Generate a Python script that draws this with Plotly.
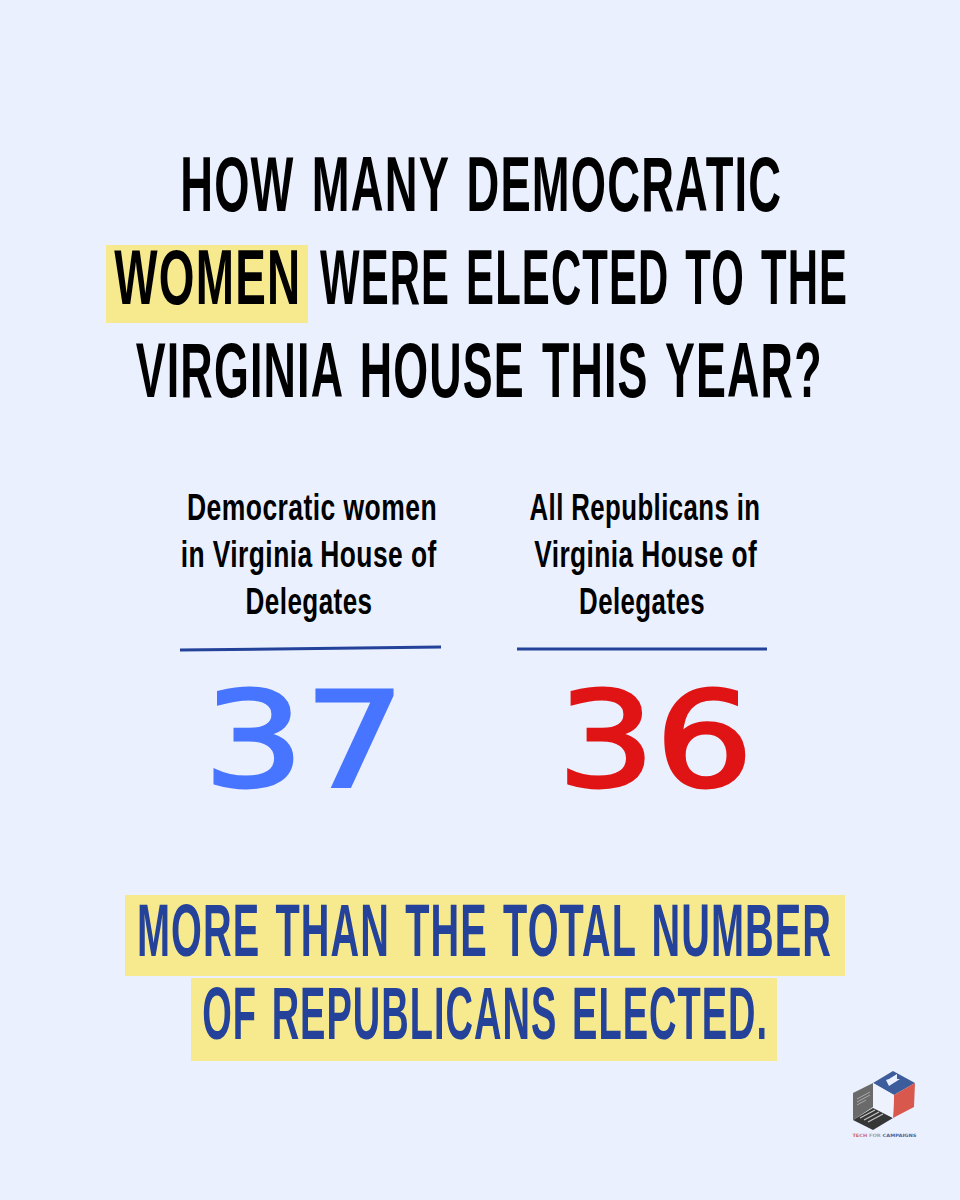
import json
import plotly.graph_objects as go

# values and text
title_lines = ["HOW MANY DEMOCRATIC", "WOMEN", "WERE ELECTED TO THE", "VIRGINIA HOUSE THIS YEAR?"]
group_a_lines = ["Democratic women", "in Virginia House of", "Delegates"]
group_b_lines = ["All Republicans in", "Virginia House of", "Delegates"]
counts = [37, 36]
count_colors = ["#4775ff", "#e01414"]
footer_lines = ["MORE THAN THE TOTAL NUMBER", "OF REPUBLICANS ELECTED."]

BG = "#eaf0fe"
YELLOW = "#f7ea8e"
NAVY = "#24429a"
HEAD = "Liberation Sans"

fig = go.Figure()
squeeze = []  # rendered width of each annotation, in order


def add_text(x, y, text, size, width, color="#000000", family=HEAD, weight=700):
    fig.add_annotation(x=x, y=y, text=text, showarrow=False, xref="x", yref="y",
                       font=dict(family=family, size=size, color=color, weight=weight))
    squeeze.append(width)


def add_rect(x0, y0, x1, y1, color):
    fig.add_shape(type="rect", x0=x0, y0=y0, x1=x1, y1=y1, fillcolor=color,
                  line_width=0, layer="below")


# highlights
add_rect(106, 245, 308, 323, YELLOW)
add_rect(125, 895, 845, 976, YELLOW)
add_rect(191, 978, 777, 1061, YELLOW)

# title
add_text(481, 184, title_lines[0], 77, 602)
add_text(207.5, 277, title_lines[1], 77, 187)
add_text(584, 277, title_lines[2], 77, 528)
add_text(478.5, 370, title_lines[3], 77, 687)

# columns
for line, x, y, w in zip(group_a_lines, [312, 309, 308.5], [507, 554, 601], [250, 256, 127]):
    add_text(x, y, line, 36, w)
for line, x, y, w in zip(group_b_lines, [644.5, 645.5, 642], [507, 554, 601], [231, 223, 126]):
    add_text(x, y, line, 36, w)
fig.add_shape(type="line", x0=180, y0=650, x1=441, y1=647, line=dict(color=NAVY, width=3))
fig.add_shape(type="line", x0=517, y0=649, x1=767, y1=649, line=dict(color=NAVY, width=3))
add_text(304, 740, str(counts[0]), 131, 202, count_colors[0], "DejaVu Sans", 400)
add_text(655, 740, str(counts[1]), 131, 196, count_colors[1], "DejaVu Sans", 400)

# footer
add_text(484.5, 930, footer_lines[0], 74, 695, NAVY)
add_text(485, 1013, footer_lines[1], 74, 566, NAVY)


# logo
def add_poly(points, color):
    path = "M" + " L".join(f"{x},{y}" for x, y in points) + " Z"
    fig.add_shape(type="path", path=path, fillcolor=color, line_width=0)


add_poly([(873, 1083), (893, 1071), (915, 1083), (894, 1095)], "#3d5c9c")
add_poly([(894, 1095), (915, 1083), (914, 1107), (893, 1118)], "#d9584e")
add_poly([(853, 1093), (873, 1083), (873, 1107), (853, 1120)], "#6a6a6a")
add_poly([(853, 1120), (873, 1108), (893, 1118), (873, 1130)], "#363636")
add_poly([(873, 1083), (894, 1095), (893, 1118), (873, 1107)], "#eef2fc")
add_poly([(889, 1079), (897, 1074), (897, 1079), (900, 1079), (889, 1086), (886, 1080)], "#eaf0fe")
for x0, y0, x1, y1 in [(857, 1099, 870, 1092), (857, 1102, 870, 1095), (857, 1105, 866, 1100)]:
    fig.add_shape(type="line", x0=x0, y0=y0, x1=x1, y1=y1, line=dict(color="#a8a8a8", width=1))
for x0, y0, x1, y1 in [(860, 1118, 875, 1110), (864, 1120, 879, 1112), (868, 1122, 883, 1114)]:
    fig.add_shape(type="line", x0=x0, y0=y0, x1=x1, y1=y1, line=dict(color="#c4c4c4", width=1.2))
add_text(884, 1135, "<span style='color:#c9695f'>TECH</span> <span style='color:#a0a0a0'>FOR</span> CAMPAIGNS",
         4.5, 64, "#4a6296", "DejaVu Sans")

fig.update_xaxes(range=[0, 960], visible=False, fixedrange=True)
fig.update_yaxes(range=[1200, 0], visible=False, fixedrange=True)
fig.update_layout(width=960, height=1200, margin=dict(l=0, r=0, t=0, b=0),
                  paper_bgcolor=BG, plot_bgcolor=BG, showlegend=False)

# no condensed font is installed, so narrow the text to its measured width
post = """
document.body.style.margin = '0';
document.body.style.background = '%s';
var widths = %s;
document.querySelectorAll('.annotation-text').forEach(function (t, i) {
  var size = parseFloat(t.style.fontSize);
  if (size > 60 && size < 100) {
    t.style.letterSpacing = '2px';
    t.style.wordSpacing = '6px';
  }
  if (size > 30 && size < 40) {
    t.style.letterSpacing = '0.6px';
  }
  if (size > 100) {
    t.style.stroke = t.style.fill;
    t.style.strokeWidth = '3px';
  }
  t.setAttribute('textLength', widths[i]);
  t.setAttribute('lengthAdjust', 'spacingAndGlyphs');
});
""" % (BG, json.dumps(squeeze))

fig.write_html("out.html", post_script=post, config={"displayModeBar": False})
